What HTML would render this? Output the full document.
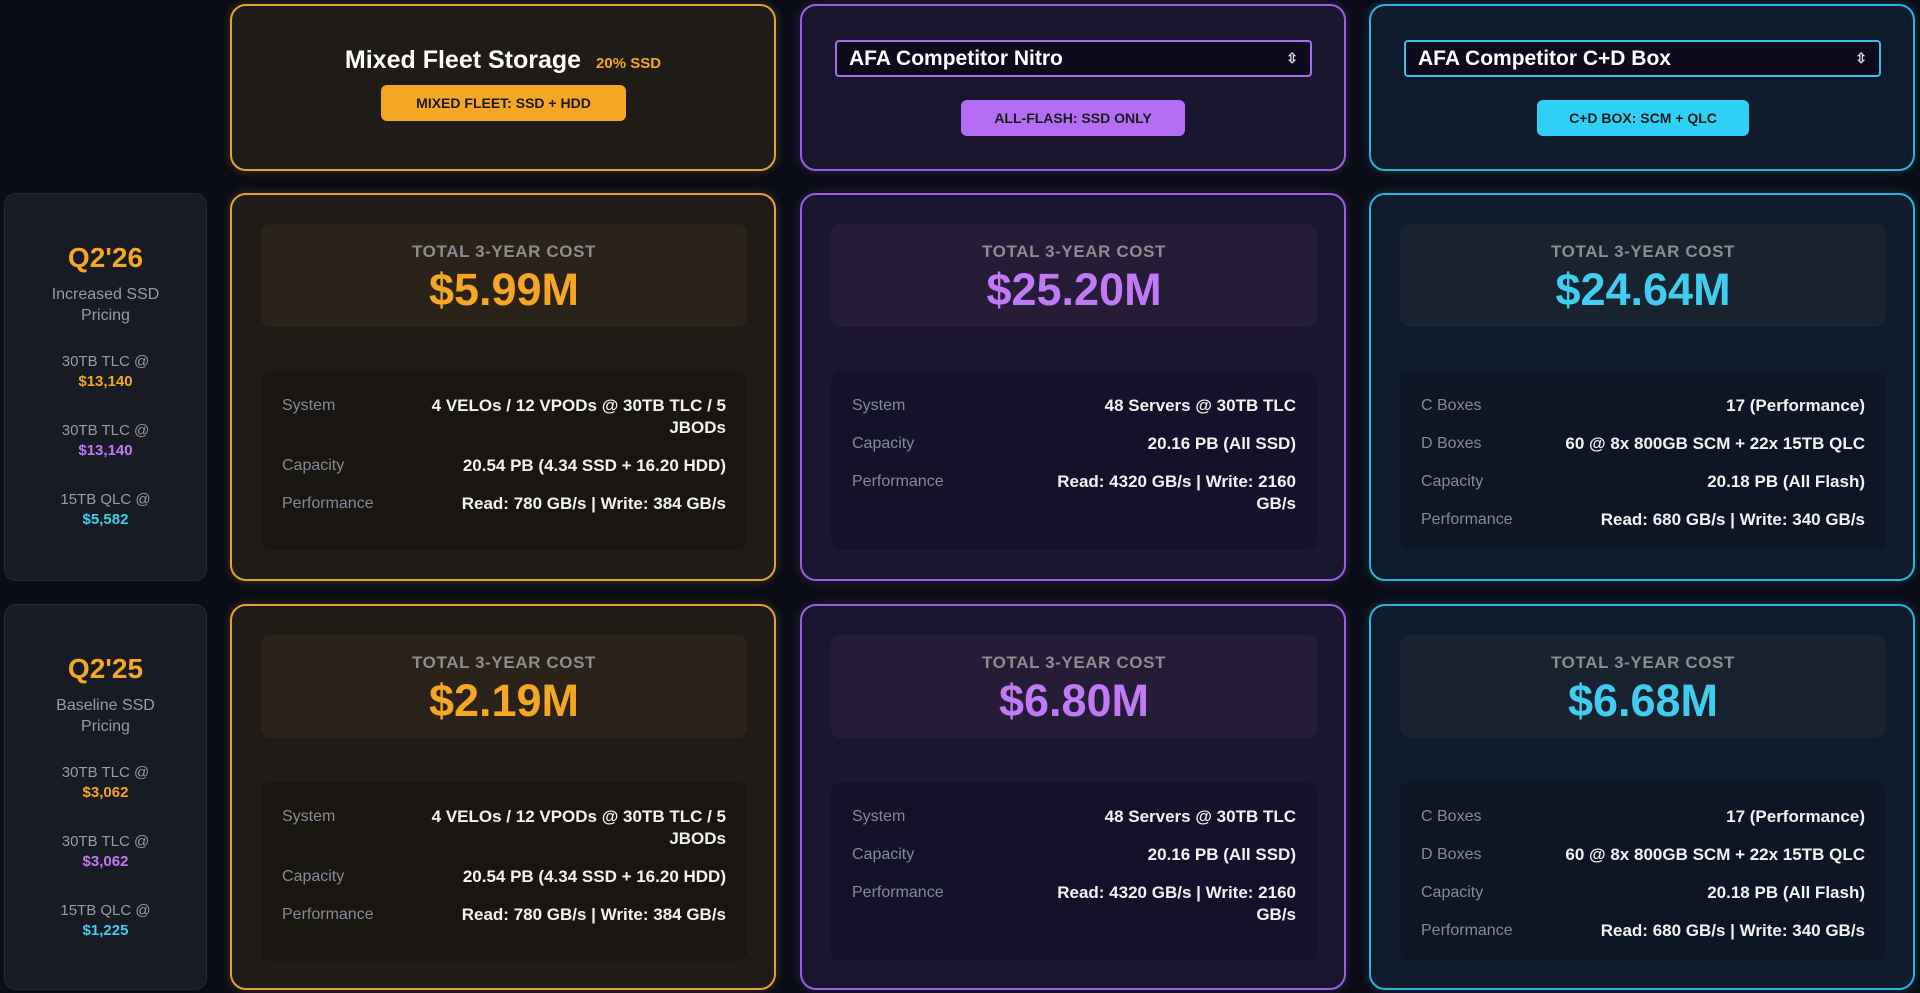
<!DOCTYPE html>
<html><head><meta charset="utf-8"><style>
*{box-sizing:border-box;margin:0;padding:0}
body{width:1920px;height:993px;background:#0a0c16;font-family:"Liberation Sans",sans-serif;position:relative;overflow:hidden}
.abs{position:absolute}
.card{position:absolute;border-radius:16px;border:2px solid}
.o{border-color:#e0a232;background:#1f1b16;box-shadow:0 0 10px rgba(224,162,50,.25)}
.p{border-color:#9b5fe0;background:#1a1630;box-shadow:0 0 10px rgba(155,95,224,.25)}
.c{border-color:#26b4dc;background:#0f1a2c;box-shadow:0 0 10px rgba(38,180,220,.25)}
.cost{position:absolute;left:29px;top:29px;width:486px;height:103px;border-radius:10px;text-align:center}
.o .cost{background:#2b2319}.p .cost{background:#271c38}.c .cost{background:#18232f}
.cost .l{position:absolute;top:18px;width:100%;font-size:17px;font-weight:bold;letter-spacing:.6px;color:#8d8d90}
.cost .v{position:absolute;top:40px;width:100%;font-size:45px;font-weight:bold}
.o .v{color:#f5a623}.p .v{color:#c07af5}.c .v{color:#40cdef}
.det{position:absolute;left:29px;top:176px;width:486px;height:179px;border-radius:10px;padding:24px 21px}
.o .det{background:#191612}.p .det{background:#14112a}.c .det{background:#0d1624}
.row{display:flex;justify-content:space-between;margin-bottom:16px;line-height:22px}
.row .k{color:#858a96;font-size:16px}
.row .x{color:#f2f2f2;font-size:17px;font-weight:bold;text-align:right;white-space:nowrap}
.lab{position:absolute;left:4px;width:203px;border-radius:12px;background:#181a24;border:1px solid #262a36;text-align:center}
.lab .q{font-size:28px;font-weight:bold;color:#f5a623;margin-top:48px}
.lab .d{font-size:16px;color:#9a9ca4;line-height:21px;margin-top:10px}
.lab .t{font-size:15px;color:#9a9ca4;line-height:20px;margin-top:26px}
.lab .t + .t{margin-top:29px}
.lab b{font-size:15px}
.badge{position:absolute;border-radius:6px;font-size:14px;font-weight:bold;color:#1a1a1a;text-align:center;line-height:36px}
.sel{position:absolute;height:37px;border:2px solid;border-radius:4px;background:#0c0c1c;color:#fff;font-size:21px;font-weight:bold;padding-left:12px;line-height:33px}
.sel span{position:absolute;right:12px;top:0;font-size:14px;color:#ddd}
</style></head><body>

<div class="card o" style="left:230px;top:4px;width:546px;height:167px">
  <div class="abs" style="left:0;width:100%;top:40px;text-align:center;color:#fff;font-size:25px;font-weight:bold">Mixed Fleet Storage <span style="font-size:15px;color:#f5a623;margin-left:8px">20% SSD</span></div>
  <div class="badge" style="left:149px;top:79px;width:245px;background:#f5a623">MIXED FLEET: SSD + HDD</div>
</div>
<div class="card p" style="left:800px;top:4px;width:546px;height:167px">
  <div class="sel" style="left:33px;top:34px;width:477px;border-color:#a66ee8">AFA Competitor Nitro<span>&#8691;</span></div>
  <div class="badge" style="left:159px;top:94px;width:224px;background:#b46ef5">ALL-FLASH: SSD ONLY</div>
</div>
<div class="card c" style="left:1369px;top:4px;width:546px;height:167px">
  <div class="sel" style="left:33px;top:34px;width:477px;border-color:#33c2e8">AFA Competitor C+D Box<span>&#8691;</span></div>
  <div class="badge" style="left:166px;top:94px;width:212px;background:#2ed0f5">C+D BOX: SCM + QLC</div>
</div>

<div class="lab" style="top:193px;height:388px">
  <div class="q">Q2'26</div>
  <div class="d">Increased SSD<br>Pricing</div>
  <div class="t">30TB TLC @<br><b style="color:#f5a623">$13,140</b></div>
  <div class="t">30TB TLC @<br><b style="color:#c07af5">$13,140</b></div>
  <div class="t">15TB QLC @<br><b style="color:#40cdef">$5,582</b></div>
</div>
<div class="lab" style="top:604px;height:386px">
  <div class="q">Q2'25</div>
  <div class="d">Baseline SSD<br>Pricing</div>
  <div class="t">30TB TLC @<br><b style="color:#f5a623">$3,062</b></div>
  <div class="t">30TB TLC @<br><b style="color:#c07af5">$3,062</b></div>
  <div class="t">15TB QLC @<br><b style="color:#40cdef">$1,225</b></div>
</div>

<div class="card o" style="left:230px;top:193px;width:546px;height:388px">
  <div class="cost"><div class="l">TOTAL 3-YEAR COST</div><div class="v">$5.99M</div></div>
  <div class="det">
    <div class="row"><div class="k">System</div><div class="x">4 VELOs / 12 VPODs @ 30TB TLC / 5<br>JBODs</div></div>
    <div class="row"><div class="k">Capacity</div><div class="x">20.54 PB (4.34 SSD + 16.20 HDD)</div></div>
    <div class="row"><div class="k">Performance</div><div class="x">Read: 780 GB/s | Write: 384 GB/s</div></div>
  </div>
</div>
<div class="card p" style="left:800px;top:193px;width:546px;height:388px">
  <div class="cost"><div class="l">TOTAL 3-YEAR COST</div><div class="v">$25.20M</div></div>
  <div class="det">
    <div class="row"><div class="k">System</div><div class="x">48 Servers @ 30TB TLC</div></div>
    <div class="row"><div class="k">Capacity</div><div class="x">20.16 PB (All SSD)</div></div>
    <div class="row"><div class="k">Performance</div><div class="x">Read: 4320 GB/s | Write: 2160<br>GB/s</div></div>
  </div>
</div>
<div class="card c" style="left:1369px;top:193px;width:546px;height:388px">
  <div class="cost"><div class="l">TOTAL 3-YEAR COST</div><div class="v">$24.64M</div></div>
  <div class="det">
    <div class="row"><div class="k">C Boxes</div><div class="x">17 (Performance)</div></div>
    <div class="row"><div class="k">D Boxes</div><div class="x">60 @ 8x 800GB SCM + 22x 15TB QLC</div></div>
    <div class="row"><div class="k">Capacity</div><div class="x">20.18 PB (All Flash)</div></div>
    <div class="row"><div class="k">Performance</div><div class="x">Read: 680 GB/s | Write: 340 GB/s</div></div>
  </div>
</div>

<div class="card o" style="left:230px;top:604px;width:546px;height:386px">
  <div class="cost"><div class="l">TOTAL 3-YEAR COST</div><div class="v">$2.19M</div></div>
  <div class="det">
    <div class="row"><div class="k">System</div><div class="x">4 VELOs / 12 VPODs @ 30TB TLC / 5<br>JBODs</div></div>
    <div class="row"><div class="k">Capacity</div><div class="x">20.54 PB (4.34 SSD + 16.20 HDD)</div></div>
    <div class="row"><div class="k">Performance</div><div class="x">Read: 780 GB/s | Write: 384 GB/s</div></div>
  </div>
</div>
<div class="card p" style="left:800px;top:604px;width:546px;height:386px">
  <div class="cost"><div class="l">TOTAL 3-YEAR COST</div><div class="v">$6.80M</div></div>
  <div class="det">
    <div class="row"><div class="k">System</div><div class="x">48 Servers @ 30TB TLC</div></div>
    <div class="row"><div class="k">Capacity</div><div class="x">20.16 PB (All SSD)</div></div>
    <div class="row"><div class="k">Performance</div><div class="x">Read: 4320 GB/s | Write: 2160<br>GB/s</div></div>
  </div>
</div>
<div class="card c" style="left:1369px;top:604px;width:546px;height:386px">
  <div class="cost"><div class="l">TOTAL 3-YEAR COST</div><div class="v">$6.68M</div></div>
  <div class="det">
    <div class="row"><div class="k">C Boxes</div><div class="x">17 (Performance)</div></div>
    <div class="row"><div class="k">D Boxes</div><div class="x">60 @ 8x 800GB SCM + 22x 15TB QLC</div></div>
    <div class="row"><div class="k">Capacity</div><div class="x">20.18 PB (All Flash)</div></div>
    <div class="row"><div class="k">Performance</div><div class="x">Read: 680 GB/s | Write: 340 GB/s</div></div>
  </div>
</div>
</body></html>
